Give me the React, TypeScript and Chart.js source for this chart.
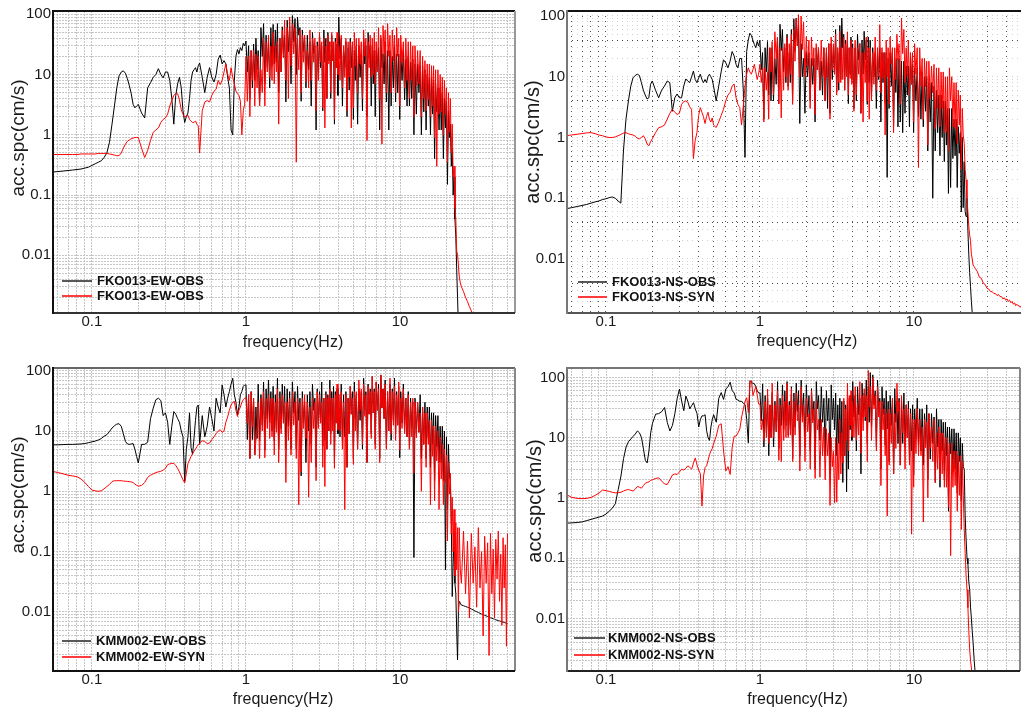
import React, { useEffect, useRef } from "react";
import { Chart, registerables } from "chart.js";

Chart.register(...registerables);

const FONT = '"Liberation Sans", Arial, Helvetica, sans-serif';

// Frequency samples (Hz), shared by all spectra
const FREQ = [
  0.055, 0.06, 0.065, 0.07, 0.075, 0.08, 0.085, 0.09, 0.095, 0.1,
  0.105, 0.11, 0.115, 0.12, 0.125, 0.13, 0.135, 0.14, 0.145, 0.15,
  0.155, 0.16, 0.165, 0.17, 0.175, 0.18, 0.185, 0.19, 0.195, 0.2,
  0.21, 0.22, 0.23, 0.24, 0.25, 0.26, 0.27, 0.28, 0.29, 0.3,
  0.31, 0.32, 0.33, 0.34, 0.35, 0.36, 0.37, 0.38, 0.39, 0.4,
  0.41, 0.42, 0.43, 0.44, 0.45, 0.46, 0.47, 0.48, 0.49, 0.5,
  0.52, 0.54, 0.56, 0.58, 0.6, 0.62, 0.64, 0.66, 0.68, 0.7,
  0.72, 0.74, 0.76, 0.78, 0.8, 0.82, 0.84, 0.86, 0.88, 0.9,
  0.92, 0.94, 0.96, 0.98,
  1, 1.02, 1.04, 1.06, 1.08, 1.1, 1.12, 1.14, 1.16, 1.18,
  1.2, 1.225, 1.25, 1.275, 1.3, 1.325, 1.35, 1.375, 1.4, 1.425,
  1.45, 1.475, 1.5, 1.525, 1.55, 1.575, 1.6, 1.63, 1.66, 1.69,
  1.72, 1.75, 1.78, 1.815, 1.85, 1.885, 1.92, 1.96, 2, 2.04,
  2.08, 2.12, 2.16, 2.2, 2.24, 2.28, 2.32, 2.36, 2.4, 2.45,
  2.5, 2.55, 2.6, 2.65, 2.7, 2.75, 2.8, 2.85, 2.9, 2.95,
  3, 3.05, 3.1, 3.15, 3.2, 3.25, 3.3, 3.35, 3.4, 3.45,
  3.5, 3.55, 3.6, 3.65, 3.7, 3.75, 3.8, 3.85, 3.9, 3.95,
  4, 4.075, 4.15, 4.225, 4.3, 4.375, 4.45, 4.525, 4.6, 4.675,
  4.75, 4.825, 4.9, 4.975, 5.05, 5.125, 5.2, 5.3, 5.4, 5.5,
  5.6, 5.7, 5.8, 5.9, 6, 6.1, 6.2, 6.3, 6.4, 6.5,
  6.6, 6.7, 6.8, 6.9, 7, 7.125, 7.25, 7.375, 7.5, 7.625,
  7.75, 7.875, 8, 8.15, 8.3, 8.45, 8.6, 8.75, 8.9, 9.05,
  9.2, 9.35, 9.5, 9.65, 9.8, 9.95, 10.1, 10.3, 10.5, 10.7,
  10.9, 11.1, 11.3, 11.5, 11.7, 11.9, 12.1, 12.3, 12.5, 12.75,
  13, 13.25, 13.5, 13.75, 14, 14.25, 14.5, 14.75, 15, 15.25,
  15.5, 15.75, 16, 16.25, 16.5, 16.75, 17, 17.3, 17.6, 17.9,
  18.2, 18.5, 18.8, 19.1, 19.4, 19.7, 20, 20.3, 20.6, 20.9,
  21.2, 21.5, 21.8, 22.1, 22.4, 22.7, 23, 23.3, 23.6, 23.9,
  24.2, 24.6, 25,
  25.8, 26.6, 27.4, 28.2, 29, 29.8, 30.6, 31.4, 32.2, 33,
  33.8, 34.6, 35.4, 36.2, 37, 37.8, 38.6, 39.4, 40.2, 41,
  41.8, 42.6, 43.4, 44.2, 45, 45.8, 46.6, 47.4, 48.2, 49,
  49.8,
];

// FKO013 EW
const TL_OBS = [
  0.24, 0.245, 0.25, 0.255, 0.26, 0.265, 0.27, 0.28, 0.29, 0.31,
  0.33, 0.35, 0.37, 0.42, 0.5, 0.75, 1.5, 3, 6, 9.5,
  11, 11.5, 10.5, 8.5, 6.5, 4.8, 3.2, 2.8, 3.0, 3.2,
  2.3, 1.9, 6, 7.3, 9, 10, 12.5, 10, 8.8, 11,
  11, 8, 4, 1.5, 4.5, 7, 9, 6, 2.5, 1.6,
  2.0, 2.3, 4, 8, 11, 12, 13, 11, 14, 15.5,
  9, 5, 9, 13, 9, 7.5, 10, 18, 21, 15,
  17, 15, 9, 6, 1.2, 1.0, 8, 20, 26, 22,
  28, 25, 33, 30,
  36, 11, 30, 4, 25, 6, 32, 8, 40, 12,
  25, 3, 60, 20, 70, 7, 45, 13, 35, 6,
  60, 14, 68, 15, 55, 16, 70, 5, 40, 11,
  62, 22, 45, 3.5, 80, 24, 65, 7, 95, 35,
  85, 10, 90, 45, 60, 3.6, 55, 24, 45, 6,
  45, 12, 35, 3, 50, 22, 30, 1.2, 35, 11,
  45, 13, 30, 2.5, 55, 16, 40, 4, 50, 17,
  35, 4, 45, 17, 30, 1.5, 40, 13, 32, 4.5,
  90, 18, 40, 3, 30, 13, 35, 2, 28, 5.5,
  40, 13, 30, 1.8, 25, 8, 30, 1.5, 30, 9,
  22, 2.5, 40, 15, 30, 2, 50, 19, 30, 3,
  30, 7, 25, 2, 25, 11, 28, 1.2, 40, 13,
  22, 7, 35, 3.5, 25, 1.2, 25, 3, 20, 6,
  30, 3.5, 22, 5, 22, 1.8, 25, 8, 25, 3.8,
  18, 3, 20, 3, 16, 4, 18, 1, 15, 2.2,
  15, 5, 14, 1, 14, 2.4, 12, 1.2, 10, 3,
  9, 1, 9, 2.2, 8, 0.4, 7, 2.4, 6, 1.2,
  6, 1.2, 5, 0.4, 4, 1.3, 3.5, 0.15, 2.5, 0.9,
  1.5, 0.3, 0.6, 0.1, 0.2, 0.04, 0.02, 0.006, 0.002, 0.0007,
];
const TL_SYN = [
  0.47, 0.47, 0.47, 0.47, 0.47, 0.47, 0.48, 0.48, 0.48, 0.48,
  0.48, 0.49, 0.49, 0.49, 0.49, 0.48, 0.47, 0.46, 0.45, 0.45,
  0.5, 0.6, 0.7, 0.78, 0.82, 0.86, 0.88, 0.9, 0.9, 0.9,
  0.6, 0.42, 0.55, 0.8, 1.1, 1.2, 1.3, 1.6, 1.8, 1.9,
  2.2, 3, 3.7, 4.5, 4.8, 4.8, 3.8, 2.6, 2.2, 2,
  2.0, 2.1, 1.8, 1.7, 1.6, 1.6, 1.7, 1.5, 1.4, 0.5,
  2.5, 3.5, 3.7, 3.5, 4.5, 5.3, 5.7, 8, 6.8, 8,
  11, 15, 10, 8, 13, 9, 7, 5.3, 4.8, 4.5,
  3.6, 1.0, 2.5, 3.2,
  20, 3.6, 20, 2, 25, 8, 25, 3, 22, 6,
  20, 3, 12, 5, 40, 3, 35, 11, 45, 9,
  30, 8, 50, 7, 30, 11, 35, 1.5, 40, 11,
  55, 19, 80, 8, 60, 4, 90, 14, 70, 22,
  60, 0.35, 40, 12, 55, 5, 45, 16, 45, 7.5,
  25, 6, 55, 8, 40, 16, 40, 2.5, 30, 8,
  50, 16, 35, 2.8, 40, 1.3, 30, 4, 45, 15,
  35, 5, 50, 17, 35, 1.8, 35, 13, 50, 10,
  30, 8, 45, 6, 30, 9, 40, 2.5, 35, 9,
  35, 1.3, 35, 2.8, 50, 14, 40, 5, 40, 15,
  35, 4, 55, 20, 40, 0.8, 35, 13, 45, 9,
  40, 10, 50, 7, 35, 11, 60, 4, 45, 0.7,
  65, 22, 55, 5, 70, 20, 45, 5, 55, 17,
  45, 5, 60, 20, 40, 3, 45, 16, 35, 6,
  40, 8, 35, 4, 35, 8, 30, 2, 30, 6.5,
  25, 7, 25, 2, 20, 4, 17, 2.5, 15, 3.8,
  15, 2, 14, 3, 14, 0.9, 12, 0.3, 12, 2.2,
  10, 2.4, 9, 1, 8, 2.2, 6, 0.35, 5, 1.1,
  4, 0.5, 1.5, 0.2, 0.3, 0.06, 0.04, 0.012, 0.01, 0.007,
  0.0045, 0.0035, 0.003,
  0.0025, 0.002, 0.0017, 0.0014, 0.0012, 0.001, 0.0009,
];

// FKO013 NS
const TR_OBS = [
  0.067, 0.07, 0.073, 0.076, 0.079, 0.083, 0.087, 0.09, 0.095, 0.098,
  0.102, 0.105, 0.1, 0.09, 0.083, 0.6, 2.0, 4, 7, 9.6,
  10.5, 11, 10.5, 8, 6, 5, 4.3, 4.5, 7.5, 8.5,
  6, 4.5, 6, 7, 8.5, 8, 2.7, 4.5, 5.2, 4.5,
  4.5, 7, 9.2, 8.5, 8, 10, 12.4, 9, 8, 9.5,
  11, 9, 8, 9, 8, 10, 11, 10, 9, 7,
  4, 7, 12, 19, 17, 14, 18, 26, 22, 16,
  14, 20, 20, 6, 0.47, 26, 40, 52, 48, 40,
  34, 30, 38, 32,
  40, 13, 25, 2, 30, 12, 38, 5, 30, 4,
  30, 4, 20, 7.5, 45, 3.6, 73, 27, 60, 12,
  30, 8, 50, 7, 25, 8, 60, 4, 90, 26,
  92, 32, 70, 1.7, 35, 10, 20, 2.5, 25, 10,
  25, 4, 20, 7.5, 20, 1.8, 30, 13, 30, 6,
  18, 5, 30, 4, 25, 3, 35, 2.5, 35, 9,
  30, 11, 60, 5.6, 25, 6, 70, 9, 92, 30,
  50, 6, 40, 12, 40, 3.6, 30, 11, 45, 9,
  35, 3, 30, 4, 50, 19, 35, 2.5, 40, 11,
  56, 19, 40, 3.5, 45, 8, 40, 5, 30, 10,
  25, 3, 25, 9, 30, 1.8, 25, 8, 25, 3.8,
  25, 0.22, 20, 3, 25, 7, 25, 1.5, 20, 5.5,
  20, 1.5, 20, 1.8, 18, 1.2, 18, 2.5, 15, 5,
  15, 1.5, 22, 7.5, 16, 1.2, 14, 4, 14, 2.2,
  12, 2, 12, 1.5, 10, 2.7, 10, 0.6, 8, 1.8,
  8, 0.1, 7, 0.6, 6, 1.2, 5, 0.5, 5, 1,
  4, 0.4, 4, 0.75, 3, 0.12, 3, 0.15, 3, 0.45,
  2, 0.5, 2, 0.15, 1.5, 0.55, 1.2, 0.06, 1, 0.07,
  0.4, 0.06, 0.05, 0.1, 0.03, 0.012, 0.006, 0.0035, 0.002, 0.0013,
  0.0011, 0.0009, 0.0008,
];
const TR_SYN = [
  1.07, 1.1, 1.13, 1.16, 1.19, 1.2, 1.16, 1.1, 1.07, 1.02,
  1.0, 1.0, 1.02, 1.07, 1.12, 1.18, 1.2, 1.15, 1.12, 1.1,
  1.05, 0.97, 0.95, 1.0, 1.07, 0.95, 0.78, 0.73, 0.85, 0.95,
  1.2, 1.45, 1.5, 1.6, 2.0, 2.5, 2.9, 2.6, 2.4, 2.5,
  3.5, 3.9, 4, 3.8, 3.2, 2.9, 0.45, 0.9, 1.2, 2.3,
  3.1, 2.6, 2.2, 1.7, 2.2, 2.6, 2.0, 1.8, 2.1, 1.6,
  1.46, 1.8, 2.3, 2.9, 4, 5, 5.5, 7, 7.6, 4.5,
  3.5, 3.1, 1.6, 3.3, 7, 11, 14, 12, 11, 13,
  16, 12, 9, 11,
  16, 8, 14, 1.8, 14, 6, 12, 2, 30, 12,
  38, 5, 55, 20, 45, 3.6, 30, 2.1, 30, 6,
  35, 10, 45, 6, 35, 11, 50, 3.5, 60, 18,
  90, 32, 105, 10, 100, 28, 80, 10, 45, 15,
  40, 3, 45, 15, 30, 2.4, 35, 13, 30, 6,
  40, 10, 30, 4, 30, 9.5, 35, 2, 45, 13,
  35, 11, 50, 5, 30, 8, 56, 8, 30, 9,
  45, 6, 35, 10, 55, 5, 30, 9.5, 40, 7.5,
  30, 2.7, 40, 5, 30, 11, 35, 2.5, 25, 1.8,
  25, 8, 45, 4, 30, 2, 30, 4, 25, 7.5,
  45, 6, 30, 10, 72, 5.4, 30, 9.5, 25, 1.1,
  40, 10, 30, 3.5, 45, 16, 30, 1.2, 30, 9,
  50, 19, 35, 3.5, 92, 24, 60, 8, 30, 10,
  40, 5, 25, 7.5, 25, 1.8, 35, 11, 30, 0.32,
  30, 7, 20, 2, 20, 6.8, 18, 0.75, 18, 4.4,
  15, 5.4, 16, 1.4, 14, 3, 14, 1.5, 12, 3,
  12, 1.2, 10, 1.25, 10, 0.6, 14, 4, 10, 1.5,
  8, 1.4, 8, 0.8, 6, 1.6, 5, 0.3, 3, 1.1,
  0.8, 0.3, 0.2, 0.1, 0.06, 0.035, 0.025, 0.02, 0.012, 0.01,
  0.008, 0.0075, 0.007,
  0.0062, 0.005, 0.0048, 0.004, 0.0038, 0.0033, 0.0032, 0.0029, 0.0029, 0.0027,
  0.0027, 0.0025, 0.0026, 0.0024, 0.0024, 0.0022, 0.0023, 0.0021, 0.0022, 0.002,
  0.0021, 0.0019, 0.002, 0.0018, 0.0019, 0.0017, 0.0018, 0.0017, 0.0017, 0.0016,
  0.0017,
];

// KMM002 EW
const BL_OBS = [
  5.9, 5.9, 5.95, 6, 6, 6.05, 6.1, 6.2, 6.4, 6.6,
  6.8, 7.1, 7.5, 8.2, 8.7, 9.8, 11.2, 12.2, 13, 13.2,
  12, 9, 6.7, 6.1, 6, 6.1, 6.2, 5, 3.8, 2.95,
  6, 6, 6.5, 16, 24, 33, 35, 32, 18, 20,
  14, 6, 12, 21, 19, 16, 14, 10, 8, 1.46,
  5, 8, 20, 5.3, 4.1, 7.7, 15, 25, 27, 6,
  18, 8, 12, 25, 16, 10, 35, 25, 20, 58,
  40, 25, 35, 45, 60, 75, 40, 30, 18.6, 25,
  40, 45, 55, 58,
  58, 7.2, 40, 3.5, 45, 7.2, 35, 4, 25, 7.5,
  60, 7, 40, 12.5, 65, 4.8, 50, 16, 70, 13.5,
  45, 10, 55, 7, 40, 11, 75, 5, 45, 11,
  60, 13.5, 55, 5, 50, 12, 45, 5, 65, 20,
  45, 5, 55, 15, 35, 1.8, 45, 13.5, 30, 3,
  40, 10, 45, 6, 60, 22, 35, 2.5, 50, 13,
  45, 13.5, 65, 5.6, 35, 7, 45, 5, 40, 10,
  70, 9, 45, 12.5, 55, 3, 45, 13.5, 50, 9,
  40, 8, 60, 7, 40, 8, 45, 2.5, 35, 9,
  55, 19, 45, 3.5, 65, 16, 40, 5, 50, 15,
  45, 5, 75, 22, 45, 3, 60, 19, 50, 9,
  80, 20, 50, 6, 65, 22, 60, 3.5, 85, 24,
  50, 16, 70, 6, 45, 10, 60, 7, 50, 15,
  75, 9, 45, 12.5, 55, 3.6, 45, 13.5, 60, 10,
  35, 8, 45, 5, 35, 11, 30, 0.08, 35, 9,
  30, 9.5, 40, 3.5, 25, 6, 30, 3.5, 25, 7.5,
  25, 2.5, 20, 6, 20, 1.5, 18, 5.4, 18, 3,
  12, 3, 12, 1.5, 10, 0.05, 8, 0.5, 6, 1.8,
  1.5, 0.3, 0.018, 0.06, 0.2, 0.03, 0.02, 0.005, 0.0016, 0.01,
  0.015, 0.014, 0.013,
  0.0127, 0.0123, 0.012, 0.0116, 0.0112, 0.0108, 0.0104, 0.0101, 0.0098, 0.0095,
  0.0092, 0.009, 0.0088, 0.0086, 0.0084, 0.0082, 0.008, 0.0079, 0.0077, 0.0076,
  0.0074, 0.0073, 0.0072, 0.0071, 0.007, 0.0069, 0.0068, 0.0067, 0.0066, 0.0065,
  0.0064,
];
const BL_SYN = [
  2.15, 2.05, 1.95, 1.85, 1.8, 1.75, 1.6, 1.4, 1.2, 1.05,
  1.02, 1.0, 1.02, 1.1, 1.2, 1.3, 1.45, 1.5, 1.5, 1.5,
  1.5, 1.48, 1.47, 1.46, 1.45, 1.43, 1.4, 1.32, 1.26, 1.22,
  1.25, 1.4, 1.7, 1.85, 1.95, 2.05, 2.1, 2.15, 2.25, 2.4,
  2.77, 2.85, 2.9, 2.9, 2.7, 2.4, 2.1, 1.8, 1.55, 1.38,
  2.0, 2.9, 3.3, 3.8, 4.2, 4.6, 5.0, 5.5, 5.9, 6.3,
  6.9, 6.7, 6.2, 6.3, 7.2, 8, 9, 10, 10.5, 9.5,
  10, 14, 17, 22, 27, 30, 31, 22, 17.4, 22,
  25, 30, 33, 35,
  36, 13.5, 40, 3.5, 45, 12, 35, 4, 6.9, 10,
  30, 3.5, 35, 10, 45, 3.6, 35, 11, 40, 7.5,
  35, 8, 35, 4, 30, 9.5, 50, 3, 35, 9,
  40, 13.5, 30, 1.4, 30, 7, 35, 4, 45, 12.5,
  30, 3.5, 35, 0.6, 30, 2.1, 35, 11, 40, 7.5,
  30, 0.8, 25, 3, 35, 11, 30, 1.5, 45, 11,
  40, 13.5, 30, 2.5, 35, 1.2, 40, 5, 35, 10,
  50, 6, 35, 10, 35, 2.4, 40, 13.5, 60, 10.5,
  40, 10, 45, 5, 30, 0.5, 40, 2.5, 35, 9,
  55, 19, 35, 2.8, 45, 10, 45, 5, 70, 22,
  50, 6, 60, 17.5, 40, 3, 55, 19, 45, 7.5,
  80, 20, 45, 5, 65, 22, 50, 3, 85, 24,
  50, 16, 60, 5, 45, 10, 75, 9, 45, 12.5,
  55, 7, 40, 12.5, 65, 4.8, 35, 11, 50, 9,
  35, 8, 40, 5, 30, 8, 35, 2, 30, 7.7,
  30, 9.5, 20, 1, 25, 6, 20, 2.5, 20, 6,
  15, 0.6, 15, 3.8, 12, 0.7, 12, 3.2, 10, 0.5,
  8, 1.6, 6, 0.6, 5, 1.4, 4, 0.15, 3, 0.9,
  2, 0.2, 0.8, 0.1, 0.5, 0.04, 0.3, 0.05, 0.25, 0.01,
  0.25, 0.05, 0.03,
  0.22, 0.02, 0.15, 0.008, 0.2, 0.03, 0.12, 0.012, 0.25, 0.025,
  0.1, 0.004, 0.18, 0.03, 0.14, 0.0019, 0.2, 0.02, 0.11, 0.008,
  0.16, 0.035, 0.22, 0.015, 0.09, 0.006, 0.17, 0.025, 0.13, 0.0027,
  0.2,
];

// KMM002 NS
const BR_OBS = [
  0.38, 0.385, 0.39, 0.4, 0.42, 0.44, 0.46, 0.48, 0.5, 0.54,
  0.6, 0.68, 0.8, 1.38, 2.3, 4.5, 7, 8.6, 9.5, 10.5,
  11.5, 12.9, 12, 10, 6.5, 4.2, 3.8, 6, 12, 17,
  24.5, 25, 27, 31.6, 17.8, 12.9, 16, 25, 45, 64,
  40, 28, 49, 40, 30, 34, 38, 30, 25, 15,
  20, 23, 23, 24, 13, 10, 9, 15, 20, 24,
  18, 45, 56, 43, 64, 70, 83, 60, 55, 43,
  42, 40, 40, 37, 35, 20, 8.2, 88, 82, 80,
  78, 70, 60, 55,
  55, 19, 78, 7, 50, 12, 45, 5, 35, 10,
  56, 7, 40, 12.5, 85, 6.6, 45, 16, 75, 13.5,
  60, 16, 85, 11, 40, 13.5, 70, 4.5, 55, 15,
  80, 27, 60, 5, 90, 22, 55, 7, 75, 22,
  50, 6, 65, 20, 40, 3, 85, 30, 50, 9,
  70, 18, 45, 5, 60, 19, 45, 2.5, 75, 20,
  45, 13.5, 55, 5, 35, 8, 45, 5, 40, 1.8,
  40, 5, 35, 1.25, 40, 3, 45, 13.5, 50, 9,
  85, 22, 50, 6, 70, 24, 45, 2.5, 80, 22,
  55, 19, 90, 8, 70, 18, 120, 15, 110, 35,
  60, 7, 90, 27, 45, 3, 70, 24, 45, 7.5,
  60, 14, 40, 4, 50, 16, 45, 2.5, 65, 18,
  40, 8, 45, 3.5, 40, 8, 55, 7, 35, 10,
  40, 4, 30, 6, 35, 2.4, 30, 9.5, 45, 7.5,
  30, 6, 30, 3.5, 25, 8, 35, 2, 25, 4.4,
  25, 8, 22, 1.8, 30, 7, 20, 1.5, 20, 6,
  18, 2, 18, 5, 15, 0.6, 15, 5.4, 14, 2.7,
  14, 3, 12, 1.2, 12, 4, 10, 0.9, 8, 3.3,
  3, 0.5, 0.2, 0.1, 0.08, 0.04, 0.03, 0.015, 0.01, 0.006,
  0.004, 0.002, 0.0012,
];
const BR_SYN = [
  1.14, 1.02, 0.98, 0.97, 0.98, 1.02, 1.1, 1.2, 1.35, 1.32,
  1.28, 1.24, 1.21, 1.22, 1.24, 1.3, 1.35, 1.38, 1.33, 1.3,
  1.4, 1.55, 1.5, 1.45, 1.6, 1.75, 1.8, 1.85, 1.95, 2.0,
  2.1, 2.15, 1.9, 1.7, 1.67, 2.0, 2.4, 2.5, 2.45, 2.7,
  3.0, 2.9, 3.1, 3.4, 3.2, 3.0, 3.8, 4.6, 3.5, 2.9,
  2.5, 0.73, 2.3, 3.2, 3.4, 4.2, 5.2, 6, 6.6, 8,
  10.6, 16, 17, 6, 2.8, 3.3, 2.45, 7, 10.6, 10.6,
  12, 14, 22, 30, 40, 46, 26, 83, 88, 50,
  60, 70, 50, 36,
  36, 13.5, 20, 8.8, 40, 10, 64, 8, 35, 10,
  80, 10, 35, 12.5, 60, 4.2, 35, 4, 50, 9,
  40, 10, 80, 10, 35, 11, 65, 4, 40, 11,
  55, 19, 35, 2.8, 70, 18, 35, 4, 45, 12.5,
  25, 3, 60, 17.5, 30, 2.1, 40, 13.5, 20, 2.2,
  20, 5, 15, 2, 14, 5, 12, 0.75, 10, 3.3,
  6, 0.83, 10, 0.85, 8, 2, 20, 2.5, 12, 3.8,
  45, 5, 30, 9, 80, 6, 50, 16, 60, 10.5,
  40, 10, 70, 9, 35, 11, 85, 5.5, 50, 13,
  65, 22, 50, 4, 130, 32, 70, 9, 100, 30,
  50, 6, 70, 22, 40, 1.6, 40, 13.5, 30, 5,
  25, 0.5, 30, 3.5, 25, 8, 45, 2.5, 25, 6.6,
  80, 27, 40, 3.5, 50, 12, 30, 3, 35, 10,
  30, 3.5, 25, 0.25, 20, 1.5, 20, 5.4, 30, 5,
  20, 5, 15, 0.4, 20, 6.8, 18, 1, 25, 6.6,
  15, 4, 20, 1.8, 12, 3, 15, 2, 12, 2.5,
  12, 1.5, 10, 1.5, 10, 0.7, 8, 0.11, 8, 1.5,
  6, 1.6, 6, 0.6, 5, 1.1, 5, 0.3, 4, 1.1,
  0.3, 0.12, 0.05, 0.03, 0.015, 0.006, 0.003, 0.002, 0.0015, 0.001,
  0.0008,
];

// Axis grid / labels
const X_GRID = [0.06, 0.07, 0.08, 0.09, 0.1, 0.2, 0.3, 0.4, 0.5, 0.6, 0.7, 0.8, 0.9, 1, 2, 3, 4, 5, 6, 7, 8, 9, 10, 20, 30, 40, 50, 60, 70];
const Y_GRID = [
  0.002, 0.003, 0.004, 0.005, 0.006, 0.007, 0.008, 0.009,
  0.01, 0.02, 0.03, 0.04, 0.05, 0.06, 0.07, 0.08, 0.09,
  0.1, 0.2, 0.3, 0.4, 0.5, 0.6, 0.7, 0.8, 0.9,
  1, 2, 3, 4, 5, 6, 7, 8, 9,
  10, 20, 30, 40, 50, 60, 70, 80, 90, 100,
];
const TR_DARK_ROWS = [0.004, 0.04, 0.4, 4, 40];
const X_LABELS = [0.1, 1, 10];
const Y_LABELS = [0.01, 0.1, 1, 10, 100];
const X_TITLE = "frequency(Hz)";
const Y_TITLE = "acc.spc(cm/s)";

type Panel = {
  id: string;
  left: number; top: number; width: number; height: number;
  padRight: number;
  xMin: number; xMax: number; yMin: number; yMax: number;
  obs: number[]; syn: number[]; names: string[];
  xGridColor: any; yGridColor: any; gridDash: number[];
  frame: { top: string; left: string; bottom: string; right: string };
  yTitle: { x: number; y: number; size: number };
  xTitle: { x: number; y: number };
  legend: { x0: number; x1: number; tx: number; y1: number; y2: number };
};

const LIGHT = "#c6c6c6";

const PANELS: Panel[] = [
  {
    id: "tl", left: 0, top: 0, width: 520, height: 358, padRight: 5,
    xMin: 0.0559, xMax: 55.7, yMin: 0.0011, yMax: 113.4,
    obs: TL_OBS, syn: TL_SYN, names: ["FKO013-EW-OBS", "FKO013-EW-OBS"],
    xGridColor: LIGHT, yGridColor: LIGHT, gridDash: [2, 1],
    frame: { top: "#111", left: "#111", bottom: "#333", right: "#999" },
    yTitle: { x: 19, y: 138, size: 19 }, xTitle: { x: 293, y: 343 },
    legend: { x0: 62, x1: 92, tx: 97, y1: 281, y2: 296 },
  },
  {
    id: "tr", left: 514, top: 0, width: 540, height: 358, padRight: 6,
    xMin: 0.0559, xMax: 74.2, yMin: 0.00129, yMax: 120.8,
    obs: TR_OBS, syn: TR_SYN, names: ["FKO013-NS-OBS", "FKO013-NS-SYN"],
    xGridColor: "#555",
    yGridColor: (c: any) => (c.tick && TR_DARK_ROWS.includes(c.tick.value) ? "#444" : "#d0d0d0"),
    gridDash: [1, 4],
    frame: { top: "#111", left: "#777", bottom: "#555", right: "#999" },
    yTitle: { x: 19, y: 142, size: 20 }, xTitle: { x: 293, y: 342 },
    legend: { x0: 64, x1: 93, tx: 98, y1: 282, y2: 297 },
  },
  {
    id: "bl", left: 0, top: 357, width: 520, height: 359, padRight: 5,
    xMin: 0.0559, xMax: 55.7, yMin: 0.00105, yMax: 110.8,
    obs: BL_OBS, syn: BL_SYN, names: ["KMM002-EW-OBS", "KMM002-EW-SYN"],
    xGridColor: LIGHT, yGridColor: LIGHT, gridDash: [2, 1],
    frame: { top: "#666", left: "#111", bottom: "#111", right: "#888" },
    yTitle: { x: 19, y: 138, size: 19 }, xTitle: { x: 283, y: 343 },
    legend: { x0: 62, x1: 91, tx: 96, y1: 284, y2: 300 },
  },
  {
    id: "br", left: 514, top: 357, width: 520, height: 359, padRight: 14,
    xMin: 0.0558, xMax: 48.8, yMin: 0.00134, yMax: 143,
    obs: BR_OBS, syn: BR_SYN, names: ["KMM002-NS-OBS", "KMM002-NS-SYN"],
    xGridColor: LIGHT, yGridColor: LIGHT, gridDash: [2, 1],
    frame: { top: "#777", left: "#777", bottom: "#222", right: "#888" },
    yTitle: { x: 21, y: 144, size: 20 }, xTitle: { x: 283.5, y: 343 },
    legend: { x0: 60, x1: 91, tx: 94, y1: 281, y2: 298 },
  },
];

const toPoints = (vals: number[]) => vals.map((v, i) => ({ x: FREQ[i], y: v }));

function makeDecor(p: Panel) {
  return {
    id: "decor-" + p.id,
    afterDraw(chart: any) {
      const ctx: CanvasRenderingContext2D = chart.ctx;
      const a = chart.chartArea;
      ctx.save();
      const side = (x1: number, y1: number, x2: number, y2: number, c: string) => {
        ctx.beginPath();
        ctx.strokeStyle = c;
        ctx.lineWidth = 2;
        ctx.moveTo(x1, y1);
        ctx.lineTo(x2, y2);
        ctx.stroke();
      };
      side(a.left, a.top, a.right, a.top, p.frame.top);
      side(a.right, a.top, a.right, a.bottom, p.frame.right);
      side(a.left, a.bottom, a.right, a.bottom, p.frame.bottom);
      side(a.left, a.top - 1, a.left, a.bottom + 1, p.frame.left);
      // legend
      const lg = p.legend;
      ctx.lineWidth = 1.5;
      ctx.strokeStyle = "#222";
      ctx.beginPath();
      ctx.moveTo(lg.x0, lg.y1);
      ctx.lineTo(lg.x1, lg.y1);
      ctx.stroke();
      ctx.lineWidth = 2;
      ctx.strokeStyle = "#ff3b3b";
      ctx.beginPath();
      ctx.moveTo(lg.x0, lg.y2);
      ctx.lineTo(lg.x1, lg.y2);
      ctx.stroke();
      ctx.fillStyle = "#111";
      ctx.font = `bold 13px ${FONT}`;
      ctx.textAlign = "left";
      ctx.textBaseline = "middle";
      ctx.fillText(p.names[0], lg.tx, lg.y1);
      ctx.fillText(p.names[1], lg.tx, lg.y2);
      // axis titles
      ctx.fillStyle = "#1a1a1a";
      ctx.textAlign = "center";
      ctx.font = `16px ${FONT}`;
      ctx.fillText(X_TITLE, p.xTitle.x, p.xTitle.y);
      ctx.translate(p.yTitle.x, p.yTitle.y);
      ctx.rotate(-Math.PI / 2);
      ctx.font = `${p.yTitle.size}px ${FONT}`;
      ctx.fillText(Y_TITLE, 0, 0);
      ctx.restore();
    },
  };
}

function SpectrumPanel({ p }: { p: Panel }) {
  const ref = useRef<HTMLCanvasElement | null>(null);
  useEffect(() => {
    const canvas = ref.current;
    if (!canvas) return;
    const chart = new Chart(canvas, {
      type: "line",
      data: {
        datasets: [
          {
            label: p.names[1],
            data: toPoints(p.syn),
            borderColor: "#ff0000",
            borderWidth: 1,
            pointRadius: 0,
            tension: 0,
          },
          {
            label: p.names[0],
            data: toPoints(p.obs),
            borderColor: "#000000",
            borderWidth: 1,
            pointRadius: 0,
            tension: 0,
          },
        ],
      },
      options: {
        responsive: false,
        animation: false,
        devicePixelRatio: 1,
        events: [],
        layout: { padding: { left: 0, top: 10, right: p.padRight, bottom: 0 } },
        plugins: { legend: { display: false }, tooltip: { enabled: false } },
        scales: {
          x: {
            type: "logarithmic",
            min: p.xMin,
            max: p.xMax,
            bounds: "data",
            afterFit: (s: any) => {
              s.height = 45;
            },
            afterBuildTicks: (s: any) => {
              s.ticks = X_GRID.filter((v) => v > p.xMin && v < p.xMax).map((v) => ({ value: v }));
            },
            ticks: {
              autoSkip: false,
              maxRotation: 0,
              minRotation: 0,
              padding: 0,
              color: "#1a1a1a",
              font: { family: FONT, size: 15 },
              callback: (v: any) => (X_LABELS.includes(Number(v)) ? String(v) : ""),
            },
            grid: { color: p.xGridColor, lineWidth: 1, drawTicks: false },
            border: { display: false, dash: p.gridDash },
          },
          y: {
            type: "logarithmic",
            min: p.yMin,
            max: p.yMax,
            bounds: "data",
            afterFit: (s: any) => {
              s.width = 53;
            },
            afterBuildTicks: (s: any) => {
              s.ticks = Y_GRID.filter((v) => v > p.yMin && v < p.yMax).map((v) => ({ value: v }));
            },
            ticks: {
              autoSkip: false,
              padding: 2,
              color: "#1a1a1a",
              font: { family: FONT, size: 15 },
              callback: (v: any) => (Y_LABELS.includes(Number(v)) ? String(v) : ""),
            },
            grid: { color: p.yGridColor, lineWidth: 1, drawTicks: false },
            border: { display: false, dash: p.gridDash },
          },
        },
      } as any,
      plugins: [makeDecor(p)],
    });
    return () => chart.destroy();
  }, [p]);
  return (
    <canvas
      ref={ref}
      width={p.width}
      height={p.height}
      style={{ position: "absolute", left: p.left, top: p.top, width: p.width, height: p.height }}
    />
  );
}

export default function App() {
  return (
    <div
      style={{
        position: "fixed",
        left: 0,
        top: 0,
        width: 1021,
        height: 716,
        overflow: "hidden",
        background: "#ffffff",
      }}
    >
      {PANELS.map((p) => (
        <SpectrumPanel key={p.id} p={p} />
      ))}
    </div>
  );
}
